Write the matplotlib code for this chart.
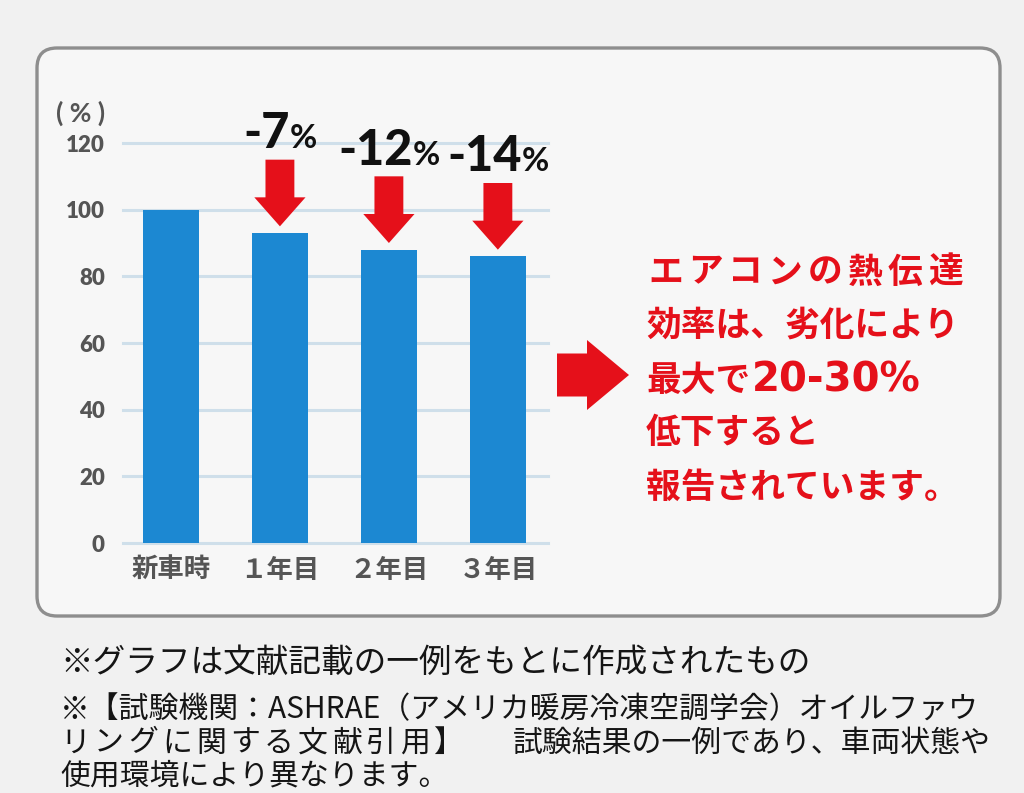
import matplotlib
matplotlib.use("Agg")
import matplotlib.pyplot as plt
import numpy as np
from matplotlib.patches import FancyArrow, FancyBboxPatch

plt.rcParams['font.family'] = ['Noto Sans CJK JP', 'DejaVu Sans']

# data
categories = ['新車時', '１年目', '２年目', '３年目']
values = [100, 93, 88, 86]
drop_labels = ['', '-7', '-12', '-14']
yticks = [0, 20, 40, 60, 80, 100, 120]

message_lines = ['エアコンの熱伝達', '効率は、劣化により', '最大で', '低下すると', '報告されています。']
message_pct = '20-30%'
note_lines = [
    '※グラフは文献記載の一例をもとに作成されたもの',
    '※【試験機関：ASHRAE（アメリカ暖房冷凍空調学会）オイルファウ',
    'リングに関する文献引用】',
    '試験結果の一例であり、車両状態や',
    '使用環境により異なります。',
]

RED = '#e5101a'
BLUE = '#1c88d2'
GRAY = '#555555'
JP = ['Noto Sans CJK JP', 'DejaVu Sans']
NUM = ['Lato', 'DejaVu Sans']

fig = plt.figure(figsize=(10.24, 7.93), dpi=100)
fig.patch.set_facecolor('#f1f1f1')

# background layer in pixel coordinates (frame, side message, notes)
bg = fig.add_axes([0, 0, 1, 1], zorder=0)
bg.set_xlim(0, 1024)
bg.set_ylim(793, 0)
bg.axis('off')

frame = FancyBboxPatch((37, 48), 963, 568, boxstyle='round,pad=0,rounding_size=20',
                       facecolor='#f7f7f7', edgecolor='#8e8e8e', linewidth=2.4)
bg.add_patch(frame)

# chart
ax = fig.add_axes([123 / 1024, 250 / 793, 425 / 1024, 400 / 793], zorder=1)
ax.set_facecolor('none')
x = np.arange(len(categories))
ax.bar(x, values, width=0.52, color=BLUE, zorder=3)
ax.set_xlim(-0.44, 3.46)
ax.set_ylim(0, 120)
ax.set_yticks(yticks)
ax.set_xticks(x)
ax.set_xticklabels(categories, fontsize=19, fontweight='bold', color=GRAY, family=JP)
ax.set_yticklabels([str(t) for t in yticks], fontsize=16, fontweight='heavy', color=GRAY, family=NUM)
ax.yaxis.grid(True, color='#cfdfea', linewidth=2.2)
ax.set_axisbelow(True)
for gl in ax.get_ygridlines():
    gl.set_clip_on(False)
for s in ax.spines.values():
    s.set_visible(False)
ax.tick_params(axis='y', length=0, pad=13)
ax.tick_params(axis='x', length=0, pad=10)

ax.text(-0.83, 129, '( % )', ha='center', va='center', fontsize=19, fontweight='bold',
        color=GRAY, family=NUM, clip_on=False)

# drop labels and red down arrows
fig.canvas.draw()
renderer = fig.canvas.get_renderer()
px_per_unit = ax.transData.transform((1, 0))[0] - ax.transData.transform((0, 0))[0]
for i in range(1, len(values)):
    v = values[i]
    t1 = ax.text(i, v + 25.5, drop_labels[i], ha='right', va='baseline', fontsize=35,
                 fontweight='black', color='#111111', family=NUM, clip_on=False)
    t2 = ax.text(i, v + 25.5, '%', ha='left', va='baseline', fontsize=24,
                 fontweight='bold', color='#111111', family=NUM, clip_on=False)
    w1 = t1.get_window_extent(renderer).width
    w2 = t2.get_window_extent(renderer).width
    dx = (w1 - w2) / 2 / px_per_unit
    t1.set_x(i + dx)
    t2.set_x(i + dx)
    arr = FancyArrow(i, v + 22, 0, -20, width=0.265, head_width=0.47, head_length=8.7,
                     length_includes_head=True, color=RED, linewidth=0, zorder=4)
    ax.add_patch(arr)

# red side arrow and message
bg.add_patch(FancyArrow(557, 375, 72, 0, width=43, head_width=70, head_length=42,
                        length_includes_head=True, color=RED, linewidth=0))

line_y = [272, 325, 380, 433, 487]
for k, ch in enumerate(message_lines[0]):
    bg.text(648 + k * 40, line_y[0], ch, ha='left', va='center', fontsize=25,
            fontweight='bold', color=RED, family=JP)
for j in range(1, 5):
    bg.text(646, line_y[j], message_lines[j], ha='left', va='center', fontsize=25,
            fontweight='bold', color=RED, family=JP)
bg.text(752, line_y[2] + 1, message_pct, ha='left', va='center', fontsize=29,
        fontweight='bold', color=RED, family=['DejaVu Sans'])

# notes below the frame
INK = '#151515'
bg.text(60, 663, note_lines[0], ha='left', va='center', fontsize=23.5, color=INK, family=JP)
bg.text(60, 710, note_lines[1], ha='left', va='center', fontsize=21.5, color=INK, family=JP)
for k, ch in enumerate(note_lines[2]):
    bg.text(60 + k * 34, 743, ch, ha='left', va='center', fontsize=21.5, color=INK, family=JP)
bg.text(513, 743, note_lines[3], ha='left', va='center', fontsize=21.5, color=INK, family=JP)
bg.text(60, 776, note_lines[4], ha='left', va='center', fontsize=21.5, color=INK, family=JP)

fig.savefig('out.png', dpi=100, facecolor=fig.get_facecolor())
